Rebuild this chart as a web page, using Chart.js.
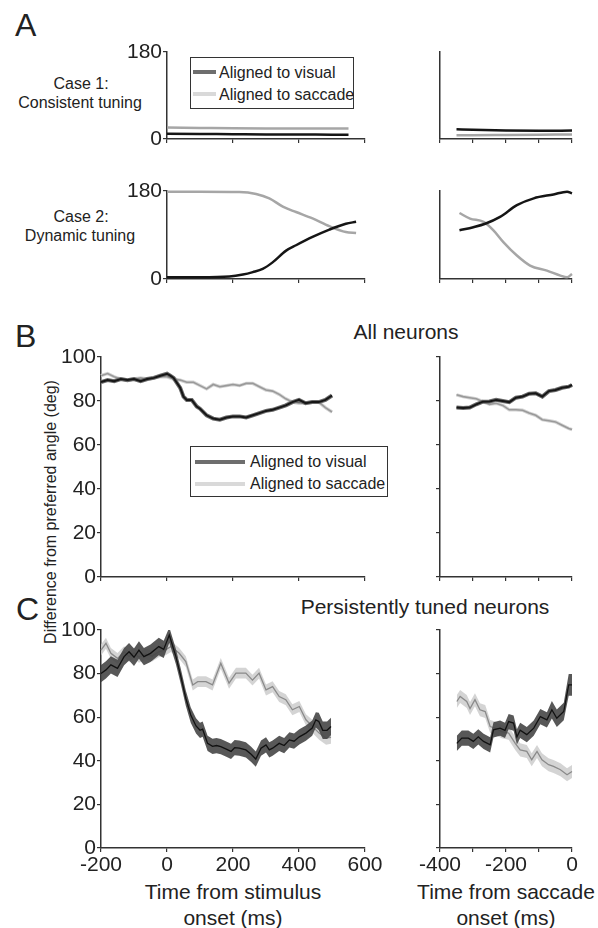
<!DOCTYPE html>
<html>
<head>
<meta charset="utf-8">
<script src="https://cdn.jsdelivr.net/npm/chart.js@4.4.0/dist/chart.umd.min.js"></script>
<style>
  body { margin:0; background:#fff; width:598px; height:928px; position:relative; overflow:hidden;
         font-family:"Liberation Sans", Arial, sans-serif; color:#222; }
  .t { position:absolute; white-space:nowrap; line-height:1; }
  .c { transform:translateX(-50%); text-align:center; }
  canvas { position:absolute; }
  .leg { position:absolute; border:1.3px solid #333; box-sizing:border-box; background:#fff; }
  .sw { position:absolute; height:4px; }
  .lt { position:absolute; font-size:16px; line-height:1; white-space:nowrap; }
</style>
</head>
<body>

<div class="t" style="left:15px;top:9px;font-size:32px">A</div>
<div class="t" style="left:15px;top:320px;font-size:32px">B</div>
<div class="t" style="left:16px;top:593px;font-size:32px">C</div>

<div class="t c" style="left:81px;top:76px;font-size:16px">Case 1:</div>
<div class="t c" style="left:80px;top:95px;font-size:16px">Consistent tuning</div>
<div class="t c" style="left:81px;top:209px;font-size:16px">Case 2:</div>
<div class="t c" style="left:80px;top:228px;font-size:16px">Dynamic tuning</div>

<div class="t c" style="left:406px;top:321px;font-size:21px">All neurons</div>
<div class="t c" style="left:425px;top:596px;font-size:21px">Persistently tuned neurons</div>

<div class="t" style="left:51px;top:512px;font-size:16px;transform:translate(-50%,-50%) rotate(-90deg)">Difference from preferred angle (deg)</div>

<div class="t c" style="left:233px;top:879px;font-size:21px;line-height:26px">Time from stimulus<br>onset (ms)</div>
<div class="t c" style="left:506px;top:879px;font-size:21px;line-height:26px">Time from saccade<br>onset (ms)</div>

<div class="leg" style="left:190px;top:57px;width:164px;height:52px">
  <div class="sw" style="left:2px;top:12px;width:23px;background:#6e6e6e"></div>
  <div class="lt" style="left:28px;top:7px">Aligned to visual</div>
  <div class="sw" style="left:2px;top:34px;width:23px;background:#d9d9d9"></div>
  <div class="lt" style="left:28px;top:29px">Aligned to saccade</div>
</div>

<div class="leg" style="left:190px;top:446px;width:198px;height:51px">
  <div class="sw" style="left:4px;top:13px;width:50px;background:#6e6e6e"></div>
  <div class="lt" style="left:59px;top:7px">Aligned to visual</div>
  <div class="sw" style="left:4px;top:35px;width:50px;background:#d9d9d9"></div>
  <div class="lt" style="left:59px;top:29px">Aligned to saccade</div>
</div>

<script>
// ── A: schematic cases ──
const a1LeftMs  = [0, 100, 200, 300, 400, 500, 550];
const a1LeftVis = [11, 10.5, 10, 9.5, 9.5, 9, 9];
const a1LeftSac = [24, 23, 22, 21.5, 21.5, 21.5, 21.5];
const a1RightMs  = [-350, -300, -200, -100, 0];
const a1RightVis = [20, 19, 17.5, 17, 17.5];
const a1RightSac = [8, 8, 8.5, 9, 9.5];

const a2LeftVisMs = [0, 100, 189, 230, 260, 290, 320, 361, 391, 441, 492, 542, 573];
const a2LeftVis   = [3.5, 3.5, 5, 9, 14, 20.6, 34, 58, 69, 86, 101, 113, 117];
const a2LeftSacMs = [0, 100, 219, 270, 310, 351, 391, 441, 492, 542, 573];
const a2LeftSac   = [178.5, 178.5, 178, 174, 165, 148, 137, 124, 108, 96, 94];
const a2RightVisMs = [-341, -299, -263, -218, -167, -116, -56, -15, 0];
const a2RightVis   = [99.6, 106, 113, 127, 151, 165, 173, 178.6, 175];
const a2RightSacMs = [-341, -309, -268, -238, -208, -167, -127, -76, -35, -15, 0];
const a2RightSac   = [135, 123.6, 116.8, 99.6, 75.5, 48, 27.5, 17, 6.9, 3.4, 10.3];

// ── B: all neurons ──
const bLeftVisMs = [-200,-180,-160,-140,-120,-100,-80,-60,-40,-20,0,10,20,40,50,60,75,90,100,120,140,160,180,200,220,240,260,280,300,320,340,360,380,400,420,440,460,480,500];
const bLeftVis   = [88.6,89.5,89,90,89.5,90,89,90,90.5,91.5,92.4,91.5,90.5,86,82,80.5,80.5,77.5,76.5,73.5,72,71.5,72.5,73,73,72.5,73.5,74.5,75.5,76,77,78,79.5,80.5,79,79.5,79.5,80.5,82.5];
const bLeftSacMs = [-200,-180,-160,-140,-120,-100,-80,-60,-40,-20,0,20,40,60,80,100,120,140,160,180,200,220,240,260,280,300,320,340,360,380,400,420,440,460,480,500];
const bLeftSac   = [91.5,92.5,91,90,89.5,90,90.5,90,90.5,91,91,90,89.5,88.5,88.5,87,85.5,87.5,86.5,87,87.5,87,88,88,86.5,85,84.5,83,81,79.5,79,79,79.5,79.5,77,75];
const bRightMs  = [-350,-330,-310,-290,-270,-250,-230,-210,-190,-170,-150,-130,-110,-90,-70,-50,-30,-10,0];
const bRightVis = [77,76.8,77,78.5,79.7,79.8,80.5,80,79.5,81.5,82,83.3,83.5,82,84.5,85,86,86.5,87.3];
const bRightSac = [82.8,82,81.5,81,79.7,78.5,79,78,76,76,75.8,74.5,73.5,71.5,71,70.5,69,67.5,67];

// ── C: persistently tuned neurons (mean and sem) ──
const cLeftVisMs  = [-200,-185,-170,-150,-130,-115,-100,-85,-70,-50,-25,-10,7,27,42,57,72,88,100,108,123,138,150,163,178,194,205,219,239,255,269,285,300,310,320,340,355,371,385,401,421,440,451,460,472,485,497];
const cLeftVis    = [80,81.7,84,82.4,87.8,90,87.5,90.8,87.8,89.3,92.4,91.1,97.7,87.8,78.6,68.7,61,56,54,54.5,48,46.6,47,46.5,45.5,44.3,46,45.8,45,43,40.8,45.8,47.3,45,45.8,48,47,49.6,49,51,52.7,55,58.8,58,54,54,55.7];
const cLeftVisSem = [4,4,4,4,4,4,4,4,4,4,4,4,3.5,3.5,3.5,3.5,3.5,3.5,3.5,3.5,3.5,3.5,3.5,3.5,3.5,3.5,3.5,3.5,3.5,3.5,3.5,3.5,3.5,3.5,3.5,3.5,3.5,3.5,3.5,3.5,3.5,3.5,3.5,4,4,4,4];
const cLeftSacMs  = [-200,-185,-170,-150,-130,-115,-100,-85,-65,-45,-25,-3,12,37,57,78,93,118,138,163,188,209,239,259,279,300,320,340,360,380,401,421,441,461,482,497];
const cLeftSac    = [90.8,93.9,89.3,87,90,87.8,89.5,87.5,89,88,90,91,92.4,89.3,85.5,74.8,76.3,76.3,74.8,84.7,75.6,80.2,80.2,77,80.2,72.5,74,69.5,68,63.4,64.9,58.8,55.7,52.7,50.4,50.8];
const cLeftSacSem = [2.5,2.5,2.5,2.5,2.5,2.5,2.5,2.5,2.5,2.5,2.5,2.5,2.5,2.5,2.5,2.5,2.5,2.5,2.5,2.5,2.5,2.5,2.5,2.5,2.5,2.5,2.5,2.5,2.5,2.5,2.5,2.5,3,3,3,3];
const cRightVisMs  = [-349,-334,-314,-299,-284,-268,-248,-238,-218,-203,-192,-177,-167,-157,-137,-116,-96,-76,-61,-46,-25,-10,0];
const cRightVis    = [48,50.4,50.4,48.9,51,48.9,47.3,54.2,55,54,58,57.3,51,54,52,55,60.3,58.8,63.4,59.5,62.6,74.8,74.8];
const cRightVisSem = [3.5,3.5,3.5,3.5,3.5,3.5,3.5,3.5,3.5,3.5,3.5,3.5,3.5,3.5,3.5,3.5,3.5,3.5,4,4,4,5,5];
const cRightSacMs  = [-349,-339,-319,-309,-294,-279,-263,-248,-233,-213,-192,-172,-157,-137,-122,-106,-91,-71,-56,-35,-15,0];
const cRightSac    = [67.2,69.5,67.2,64,68,63.4,62.6,55.7,55,53.4,52.7,48,45,44.3,40.5,44.3,40.5,38.2,37.4,35.9,33.6,35.1];
const cRightSacSem = [3,3,3,3,3,3,3,3,3,3,3,3,3,3,3,3,3,3,3,3,3,3];

// axis ticks
const leftMsTicks  = [-200, 0, 200, 400, 600];
const aLeftMsTicks = [0, 200, 400, 600];
const rightMsTicks = [-400, -300, -200, -100, 0];
const rightMsLabels = [-400, -200, 0];
const angleTicks   = [0, 180];
const diffTicks    = [0, 20, 40, 60, 80, 100];

const FONT = '"Liberation Sans", Arial, sans-serif';
const AXIS = '#333';
const BLACK = '#151515', GRAY = '#a6a6a6';

function pts(xs, ys) { return xs.map((x, i) => ({ x, y: ys[i] })); }

function line(xs, ys, color, width, order, smooth) {
  return { data: pts(xs, ys), borderColor: color, borderWidth: width, pointRadius: 0,
           fill: false, clip: false, order, cubicInterpolationMode: smooth ? 'monotone' : 'default', tension: 0 };
}

function band(xs, ys, sem, color, order) {
  return [
    { data: xs.map((x, i) => ({ x, y: ys[i] + sem[i] })), borderWidth: 0, pointRadius: 0,
      backgroundColor: color, borderColor: 'rgba(0,0,0,0)', fill: '+1', clip: false, order },
    { data: xs.map((x, i) => ({ x, y: ys[i] - sem[i] })), borderWidth: 0, pointRadius: 0,
      borderColor: 'rgba(0,0,0,0)', fill: false, clip: false, order }
  ];
}

function axisCfg(min, max, ticks, labels, afterFit, showMarks) {
  return {
    type: 'linear', min, max,
    afterFit,
    afterBuildTicks: s => { s.ticks = ticks.map(v => ({ value: v })); },
    grid: { drawOnChartArea: false, drawTicks: showMarks, tickLength: 4, color: AXIS, lineWidth: 1.2 },
    border: { display: true, color: AXIS, width: 1.5 },
    ticks: { autoSkip: false, maxRotation: 0, padding: 1, color: '#222',
             font: { family: FONT, size: 21 },
             callback: v => labels.includes(v) ? String(v) : '' }
  };
}

// area = chart area in page pixels
function panel(area, datasets, x, y) {
  const padL = 60, padT = 15, padR = 25, padB = 32;
  const w = area.r - area.l + padL + padR, h = area.b - area.t + padT + padB;
  const cv = document.createElement('canvas');
  cv.width = w; cv.height = h;
  cv.style.left = (area.l - padL) + 'px';
  cv.style.top = (area.t - padT) + 'px';
  cv.style.width = w + 'px'; cv.style.height = h + 'px';
  document.body.appendChild(cv);
  new Chart(cv, {
    type: 'line',
    data: { datasets },
    options: {
      responsive: false, animation: false, devicePixelRatio: 1,
      layout: { padding: { left: 0, top: padT, right: padR, bottom: 0 } },
      plugins: { legend: { display: false }, tooltip: { enabled: false } },
      scales: {
        x: axisCfg(x.min, x.max, x.ticks, x.labels, s => { s.height = padB; }, x.marks !== false),
        y: axisCfg(y.min, y.max, y.ticks, y.labels, s => { s.width = padL; }, y.marks !== false)
      }
    }
  });
}

const L = { l: 167, r: 365 }, BL = { l: 101, r: 365 }, R = { l: 440, r: 572 };

// A row 1
panel({ ...L, t: 52, b: 139 },
  [line(a1LeftMs, a1LeftVis, BLACK, 2.5, 0, true), line(a1LeftMs, a1LeftSac, GRAY, 2.5, 1, true)],
  { min: 0, max: 600, ticks: aLeftMsTicks, labels: [] },
  { min: 0, max: 180, ticks: angleTicks, labels: angleTicks });
panel({ ...R, t: 52, b: 139 },
  [line(a1RightMs, a1RightVis, BLACK, 2.5, 0, true), line(a1RightMs, a1RightSac, GRAY, 2.5, 1, true)],
  { min: -400, max: 0, ticks: rightMsTicks, labels: [] },
  { min: 0, max: 180, ticks: angleTicks, labels: [], marks: false });

// A row 2
panel({ ...L, t: 191, b: 279 },
  [line(a2LeftVisMs, a2LeftVis, BLACK, 2.5, 0, true), line(a2LeftSacMs, a2LeftSac, GRAY, 2.5, 1, true)],
  { min: 0, max: 600, ticks: aLeftMsTicks, labels: [] },
  { min: 0, max: 180, ticks: angleTicks, labels: angleTicks });
panel({ ...R, t: 191, b: 279 },
  [line(a2RightVisMs, a2RightVis, BLACK, 2.5, 0, true), line(a2RightSacMs, a2RightSac, GRAY, 2.5, 1, true)],
  { min: -400, max: 0, ticks: rightMsTicks, labels: [] },
  { min: 0, max: 180, ticks: angleTicks, labels: [], marks: false });

// B — thin halo under each trace, then the trace itself
panel({ ...BL, t: 357, b: 577 },
  [line(bLeftVisMs, bLeftVis, '#161616', 2, 0), line(bLeftVisMs, bLeftVis, '#6a6a6a', 4, 1),
   line(bLeftSacMs, bLeftSac, '#9a9a9a', 1.6, 2), line(bLeftSacMs, bLeftSac, '#d4d4d4', 3.4, 3)],
  { min: -200, max: 600, ticks: leftMsTicks, labels: [] },
  { min: 0, max: 100, ticks: diffTicks, labels: diffTicks });
panel({ ...R, t: 357, b: 577 },
  [line(bRightMs, bRightVis, '#161616', 2, 0), line(bRightMs, bRightVis, '#6a6a6a', 4, 1),
   line(bRightMs, bRightSac, '#9a9a9a', 1.6, 2), line(bRightMs, bRightSac, '#d4d4d4', 3.4, 3)],
  { min: -400, max: 0, ticks: rightMsTicks, labels: [] },
  { min: 0, max: 100, ticks: diffTicks, labels: [] });

// C
panel({ ...BL, t: 630, b: 848 },
  [line(cLeftVisMs, cLeftVis, '#111', 1.3, 0),
   ...band(cLeftVisMs, cLeftVis, cLeftVisSem, 'rgba(70,70,70,0.9)', 1),
   line(cLeftSacMs, cLeftSac, '#8a8a8a', 1.3, 2),
   ...band(cLeftSacMs, cLeftSac, cLeftSacSem, 'rgba(205,205,205,0.85)', 3)],
  { min: -200, max: 600, ticks: leftMsTicks, labels: leftMsTicks },
  { min: 0, max: 100, ticks: diffTicks, labels: diffTicks });
panel({ ...R, t: 630, b: 848 },
  [line(cRightVisMs, cRightVis, '#111', 1.3, 0),
   ...band(cRightVisMs, cRightVis, cRightVisSem, 'rgba(70,70,70,0.9)', 1),
   line(cRightSacMs, cRightSac, '#8a8a8a', 1.3, 2),
   ...band(cRightSacMs, cRightSac, cRightSacSem, 'rgba(205,205,205,0.85)', 3)],
  { min: -400, max: 0, ticks: rightMsTicks, labels: rightMsLabels },
  { min: 0, max: 100, ticks: diffTicks, labels: [] });
</script>
</body>
</html>
